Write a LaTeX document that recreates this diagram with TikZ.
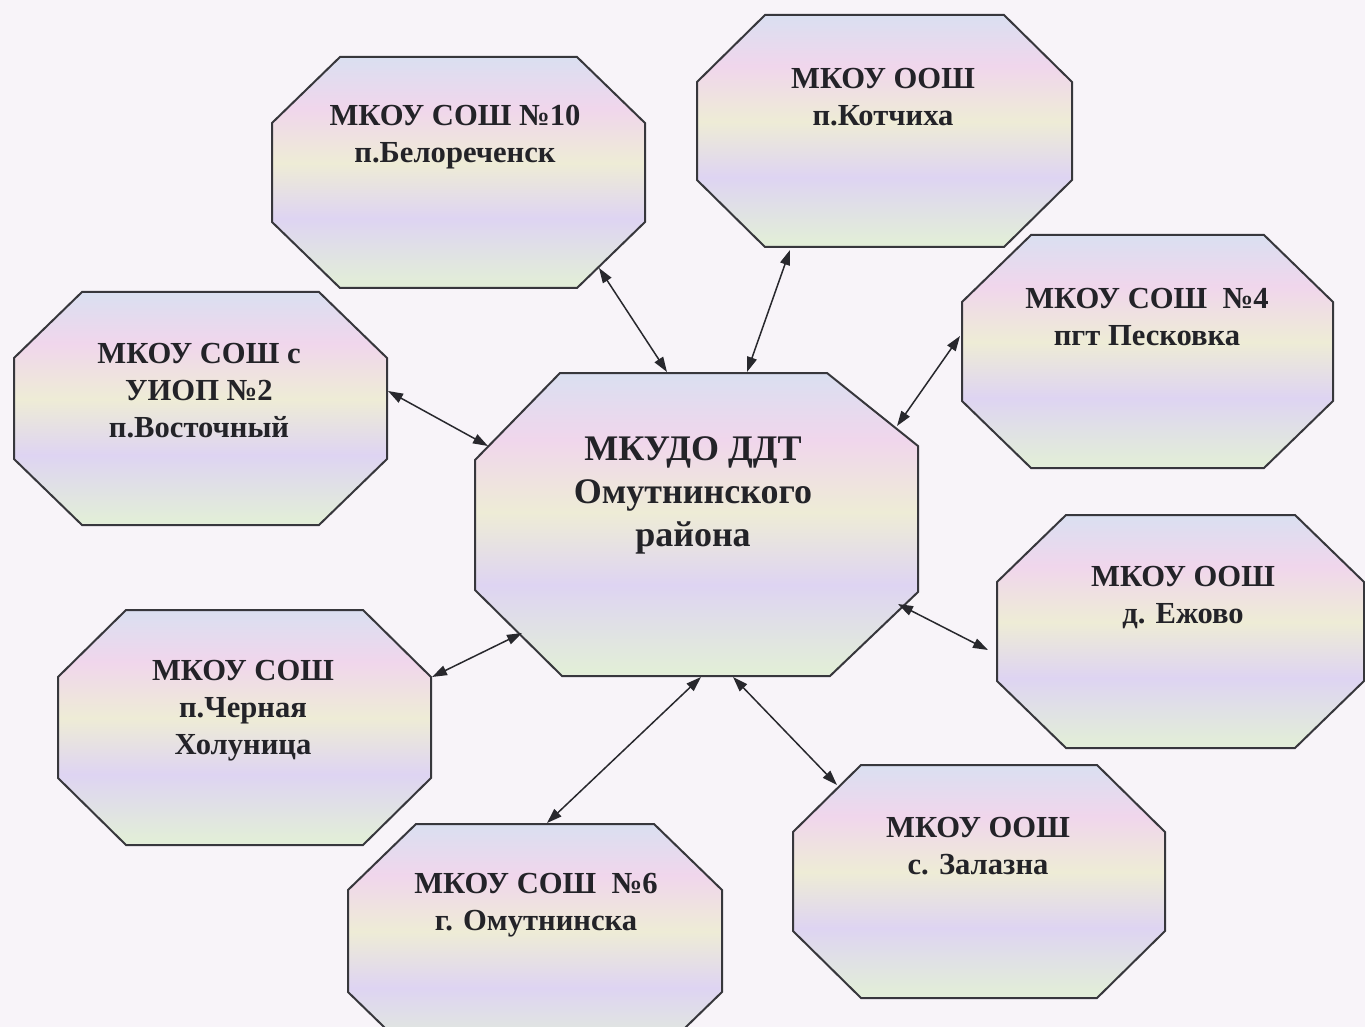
\documentclass[tikz,border=0pt]{standalone}
\usepackage{fontspec}
\setmainfont{Liberation Serif}
\usetikzlibrary{arrows.meta}
\definecolor{bg}{RGB}{248,244,249}
\definecolor{octline}{RGB}{55,55,60}
\definecolor{txt}{RGB}{35,35,40}
\definecolor{arrowc}{RGB}{40,40,45}
\definecolor{pA}{RGB}{222,212,242}
\definecolor{pB}{RGB}{226,238,216}
\definecolor{pC}{RGB}{240,214,236}
\definecolor{pD}{RGB}{212,226,242}
\definecolor{pE}{RGB}{238,236,214}
\pgfdeclareverticalshading{pastel}{100bp}{color(0bp)=(pD); color(12bp)=(pC); color(26bp)=(pB); color(40bp)=(pA); color(52bp)=(pE); color(64bp)=(pC); color(78bp)=(pD); color(90bp)=(pB); color(100bp)=(pA)}
\newcommand\octshape[6]{\path[octa] ({#1+#5},#2) -- ({#3-#5},#2) -- (#3,{#2+#6}) -- (#3,{#4-#6}) -- ({#3-#5},#4) -- ({#1+#5},#4) -- (#1,{#4-#6}) -- (#1,{#2+#6}) -- cycle;}
\begin{document}
\begin{tikzpicture}[x=0.5pt,y=-0.5pt,
  octa/.style={draw=octline, line width=1pt, shade, shading=pastel, line join=miter},
  lbl/.style={font=\bfseries\fontsize{15.3}{18.5}\selectfont, align=center, text=txt, inner sep=0pt},
  biglbl/.style={font=\bfseries\fontsize{18}{21.5}\selectfont, align=center, text=txt, inner sep=0pt},
  link/.style={draw=arrowc, line width=0.75pt, {Triangle[length=7.5pt,width=5pt]}-{Triangle[length=7.5pt,width=5pt]}}]
\useasboundingbox (0,0) rectangle (1365,1027);
\fill[bg] (0,0) rectangle (1365,1027);
\begin{scope}
\clip (0,0) rectangle (1365,1027);
% octagons
\octshape{272}{57}{645}{288}{68}{66}
\octshape{697}{15}{1072}{247}{68}{67}
\octshape{962}{235}{1333}{468}{69}{67}
\octshape{14}{292}{387}{525}{68}{66}
\octshape{997}{515}{1364}{748}{69}{67}
\octshape{58}{610}{431}{845}{68}{67}
\octshape{348}{824}{722}{1058}{68}{66}
\octshape{793}{765}{1165}{998}{68}{67}
\path[octa] (560,373) -- (827,373) -- (918,446) -- (918,592) -- (830,676) -- (562,676) -- (475,590) -- (475,460) -- cycle;
\end{scope}
% labels
\node[lbl] (bel) at (455,137) {МКОУ СОШ №10\\п.Белореченск};
\node[lbl] (kot) at (883,97) {МКОУ ООШ\\п.Котчиха};
\node[lbl] (pes) at (1147,317) {МКОУ СОШ~~№4\\пгт Песковка};
\node[lbl] (vos) at (199,391) {МКОУ СОШ с\\УИОП №2\\п.Восточный};
\node[lbl] (ezh) at (1183,598) {МКОУ ООШ\\д. Ежово};
\node[lbl] (cher) at (243,711) {МКОУ СОШ\\п.Черная\\Холуница};
\node[lbl] (omu) at (536,905) {МКОУ СОШ~~№6\\г. Омутнинска};
\node[lbl] (zal) at (978,846) {МКОУ ООШ\\с. Залазна};
\node[biglbl] (ddt) at (693,495) {МКУДО ДДТ\\Омутнинского\\района};
% connector end points
\coordinate (belE) at (599,268);
\coordinate (belC) at (667,372);
\coordinate (kotE) at (790,250);
\coordinate (kotC) at (747,372);
\coordinate (pesE) at (960,336);
\coordinate (pesC) at (897,426);
\coordinate (vosE) at (388,391);
\coordinate (vosC) at (488,446);
\coordinate (cherE) at (432,677);
\coordinate (cherC) at (522,633);
\coordinate (omuE) at (547,823);
\coordinate (omuC) at (701,677);
\coordinate (zalC) at (733,677);
\coordinate (zalE) at (837,785);
\coordinate (ezhC) at (898,604);
\coordinate (ezhE) at (988,650);
% connectors
\draw[link] (belE) -- (belC);
\draw[link] (kotE) -- (kotC);
\draw[link] (pesE) -- (pesC);
\draw[link] (vosE) -- (vosC);
\draw[link] (cherE) -- (cherC);
\draw[link] (omuE) -- (omuC);
\draw[link] (zalC) -- (zalE);
\draw[link] (ezhC) -- (ezhE);
\end{tikzpicture}
\end{document}
